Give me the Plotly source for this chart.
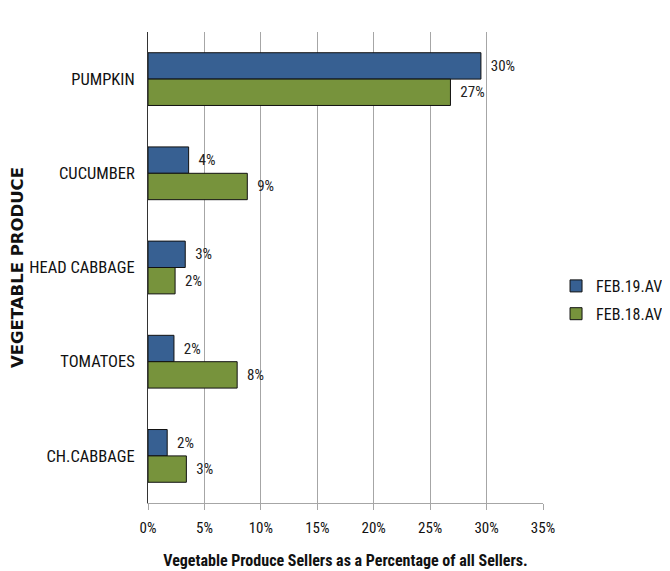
import plotly.graph_objects as go

NARROW = "Liberation Sans Narrow, Arial Narrow, Roboto Condensed, sans-serif"

categories = ["PUMPKIN", "CUCUMBER", "HEAD CABBAGE", "TOMATOES", "CH.CABBAGE"]
feb19 = [0.295, 0.036, 0.033, 0.023, 0.017]
feb18 = [0.268, 0.088, 0.024, 0.079, 0.034]
x_ticks = [0, 0.05, 0.10, 0.15, 0.20, 0.25, 0.30, 0.35]

fig = go.Figure()
fig.add_trace(go.Bar(
    y=categories, x=feb19, name="FEB.19.AV", orientation="h", legendgroup="a",
    marker=dict(color="#376092", line=dict(color="#111111", width=1)),
    texttemplate="  %{x:.0%}", textposition="outside", cliponaxis=False,
    textfont=dict(family=NARROW, size=15, color="#222222"),
))
fig.add_trace(go.Bar(
    y=categories, x=feb18, name="FEB.18.AV", orientation="h", legendgroup="b",
    marker=dict(color="#77933C", line=dict(color="#111111", width=1)),
    texttemplate="  %{x:.0%}", textposition="outside", cliponaxis=False,
    textfont=dict(family=NARROW, size=15, color="#222222"),
))

# the page body adds an 8px offset, so margins are set a little smaller
fig.update_layout(
    width=670, height=571,
    barmode="group", bargap=0.44, bargroupgap=0,
    plot_bgcolor="white", paper_bgcolor="white",
    margin=dict(l=140, r=135, t=24, b=76, autoexpand=False),
    font=dict(family=NARROW, size=15, color="#111111"),
    legend=dict(x=1.033, y=0.431, yanchor="middle", xanchor="left",
                font=dict(family=NARROW, size=16), itemwidth=30,
                tracegroupgap=4),
    showlegend=True,
)
fig.update_xaxes(
    range=[0, 0.35], tickvals=x_ticks, tickformat=".0%",
    showgrid=True, gridcolor="#a6a6a6", gridwidth=1,
    showline=True, linecolor="#a6a6a6", ticks="outside", tickcolor="#a6a6a6",
    ticklen=6, zeroline=False, automargin=False, ticklabelstandoff=5,
    tickfont=dict(family=NARROW, size=15),
    title=dict(text="<b>Vegetable Produce Sellers as a Percentage of all Sellers.</b>",
               font=dict(family=NARROW, size=16), standoff=18),
)
fig.update_yaxes(
    autorange="reversed", showline=True, linecolor="#333333", linewidth=1,
    ticks="outside", ticklen=9, tickcolor="rgba(0,0,0,0)", automargin=False,
    tickfont=dict(family=NARROW, size=16.5),
    title=dict(text="<b>VEGETABLE PRODUCE</b>",
               font=dict(family="DejaVu Sans, Verdana, sans-serif", size=16.5),
               standoff=10),
)

fig.write_html("out.html")
